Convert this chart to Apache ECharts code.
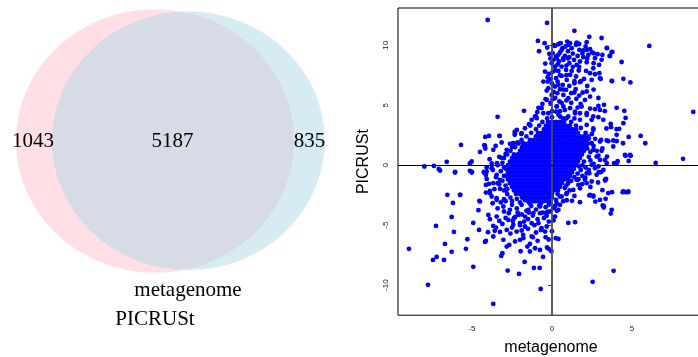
<!DOCTYPE html>
<html>
<head>
<meta charset="utf-8">
<script src="https://cdn.jsdelivr.net/npm/echarts@6/dist/echarts.min.js"></script>
<style>
  html, body { margin: 0; padding: 0; background: #fff; }
  #chart { width: 698px; height: 357px; }
</style>
</head>
<body>
<div id="chart"></div>
<script>
// venn: PICRUSt only, shared, metagenome only
var vennNames = ['PICRUSt', 'metagenome'];
var vennCounts = [1043, 5187, 835];

// scatter axis ticks
var xTicks = [-5, 0, 5];
var yTicks = [-10, -5, 0, 5, 10];

// dense core of the scatter, read row by row: [y, [x...]]
var coreRows = [
  [3.6, [-0.25, 0, 0.25, 0.5, 0.75]],
  [3.3, [-0.38, -0.13, 0.12, 0.37, 0.62, 0.87, 1.12]],
  [3.0, [-0.5, -0.25, 0, 0.25, 0.5, 0.75, 1, 1.25, 1.5]],
  [2.7, [-0.88, -0.63, -0.38, -0.13, 0.12, 0.37, 0.62, 0.87, 1.12, 1.37, 1.62]],
  [2.4, [-1, -0.75, -0.5, -0.25, 0, 0.25, 0.5, 0.75, 1, 1.25, 1.5, 1.75, 2]],
  [2.1, [-1.38, -1.13, -0.88, -0.63, -0.38, -0.13, 0.12, 0.37, 0.62, 0.87, 1.12, 1.37, 1.62, 1.87, 2.12]],
  [1.8, [-1.75, -1.5, -1.25, -1, -0.75, -0.5, -0.25, 0, 0.25, 0.5, 0.75, 1, 1.25, 1.5, 1.75, 2, 2.25]],
  [1.5, [-1.88, -1.63, -1.38, -1.13, -0.88, -0.63, -0.38, -0.13, 0.12, 0.37, 0.62, 0.87, 1.12, 1.37, 1.62, 1.87, 2.12]],
  [1.2, [-2, -1.75, -1.5, -1.25, -1, -0.75, -0.5, -0.25, 0, 0.25, 0.5, 0.75, 1, 1.25, 1.5, 1.75, 2]],
  [0.9, [-2.38, -2.13, -1.88, -1.63, -1.38, -1.13, -0.88, -0.63, -0.38, -0.13, 0.12, 0.37, 0.62, 0.87, 1.12, 1.37, 1.62, 1.87]],
  [0.6, [-2.5, -2.25, -2, -1.75, -1.5, -1.25, -1, -0.75, -0.5, -0.25, 0, 0.25, 0.5, 0.75, 1, 1.25, 1.5, 1.75]],
  [0.3, [-2.63, -2.38, -2.13, -1.88, -1.63, -1.38, -1.13, -0.88, -0.63, -0.38, -0.13, 0.12, 0.37, 0.62, 0.87, 1.12, 1.37, 1.62]],
  [0, [-2.75, -2.5, -2.25, -2, -1.75, -1.5, -1.25, -1, -0.75, -0.5, -0.25, 0, 0.25, 0.5, 0.75, 1, 1.25, 1.5]],
  [-0.3, [-2.88, -2.63, -2.38, -2.13, -1.88, -1.63, -1.38, -1.13, -0.88, -0.63, -0.38, -0.13, 0.12, 0.37, 0.62, 0.87, 1.12, 1.37]],
  [-0.6, [-2.75, -2.5, -2.25, -2, -1.75, -1.5, -1.25, -1, -0.75, -0.5, -0.25, 0, 0.25, 0.5, 0.75, 1, 1.25]],
  [-0.9, [-2.88, -2.63, -2.38, -2.13, -1.88, -1.63, -1.38, -1.13, -0.88, -0.63, -0.38, -0.13, 0.12, 0.37, 0.62, 0.87, 1.12]],
  [-1.2, [-2.75, -2.5, -2.25, -2, -1.75, -1.5, -1.25, -1, -0.75, -0.5, -0.25, 0, 0.25, 0.5, 0.75, 1]],
  [-1.5, [-2.63, -2.38, -2.13, -1.88, -1.63, -1.38, -1.13, -0.88, -0.63, -0.38, -0.13, 0.12, 0.37, 0.62]],
  [-1.8, [-2.5, -2.25, -2, -1.75, -1.5, -1.25, -1, -0.75, -0.5, -0.25, 0, 0.25, 0.5]],
  [-2.1, [-2.38, -2.13, -1.88, -1.63, -1.38, -1.13, -0.88, -0.63, -0.38, -0.13, 0.12, 0.37]],
  [-2.4, [-2.25, -2, -1.75, -1.5, -1.25, -1, -0.75, -0.5, -0.25, 0]],
  [-2.7, [-1.88, -1.63, -1.38, -1.13, -0.88, -0.63, -0.38, -0.13]],
  [-3.0, [-1.5, -1.25, -1, -0.75, -0.5, -0.25]]
];

// upper arm (y > 4)
var upperPts = [
  [-4.02,12.1],[-0.31,11.86],[1.4,11.2],[2.33,10.7],[3.1,10.6],[6.08,9.94],[-0.88,10.36],[-0.46,10.17],[-0.81,9.5],
  [3.42,9.78],[3.77,9.44],[3.6,9.1],[4.35,8.6],[4.46,7.2],[4.9,6.9],[3.75,7.0],[3.0,7.25],[-0.42,8.47],[-0.44,7.8],
  [-0.54,6.97],[-0.27,7.33],[8.83,4.44],[-1.75,4.53],[-3.4,4.03],[4.04,4.78],[4.52,4.53],[4.6,3.94],
  [0.54,10.17],[1.13,10.17],[1.54,10.22],[1.5,10.03],[1.04,10.03],[2.17,10.25],[0.4,10.08],[0.19,9.94],[0.65,9.75],
  [0.85,9.89],[1.23,9.75],[1.71,9.61],[1.96,9.56],[2.17,9.61],[2.38,9.67],[2.6,9.33],[2.85,9.25],[3.15,9.19],
  [3.44,9.75],[3.73,9.42],[3.63,9.11],[3.1,8.78],[2.69,8.92],[2.27,9.19],[1.96,9.0],[1.75,8.64],[1.38,8.78],
  [1.08,9.0],[0.81,9.11],[0.5,9.39],[0.04,9.33],[-0.17,9.28],[0.25,9.06],[0.08,8.78],[0.44,8.64],[0.71,8.78],
  [1.08,8.5],[-0.02,8.5],[0.19,8.22],[0.6,8.22],[1.54,8.36],[2.17,8.58],[2.94,8.36],[2.58,8.08],[2.13,7.86],
  [1.67,7.89],[1.23,7.86],[0.88,7.94],[0.4,7.86],[0.04,7.78],[2.38,7.67],[2.69,7.58],[2.96,7.67],[3.04,7.19],
  [2.48,7.11],[2.0,7.19],[1.5,7.39],[1.13,7.53],[0.6,7.44],[0.25,7.25],[-0.13,7.17],[-0.27,6.97],[0.35,6.97],
  [0.92,7.11],[0.67,6.69],[1.08,6.61],[1.4,6.83],[1.75,6.92],[0.19,6.56],[-0.23,6.42],[0.5,6.33],[0.88,6.28],
  [1.48,6.33],[1.92,6.06],[2.17,6.14],[1.4,6.06],[0.33,6.0],[-0.02,5.86],[-0.33,6.22],[2.38,5.72],[0.71,5.86],
  [1.02,5.58],[1.52,5.53],[0.04,5.5],[-0.33,5.44],[0.46,5.31],[2.06,5.44],[1.79,5.11],[2.9,4.94],[2.69,4.67],
  [2.38,4.72],[3.0,4.61],[3.25,5.03],[3.73,7.03],[-0.65,4.75],[-0.92,4.42],[-0.23,4.33],[0.25,4.47],[0.71,4.89],
  [1.13,4.75],[1.44,4.33],[1.75,4.33],[2.17,4.19],[-1.06,4.06],[0.5,4.06],[1.02,4.06],[2.9,4.0],[2.58,4.06],
  [0.0,4.5],[0.3,4.9],[0.6,5.2],[-0.1,5.2],[0.2,5.6],[0.9,5.4],[0.5,4.5],[1.2,5.2],[1.6,4.8],[0.8,4.6],
  [-0.4,5.5],[0.4,6.7],[0.1,6.1],[0.7,6.3],[1.2,6.0],[1.7,5.8],[0.5,7.5],[1.8,7.0],[0.9,8.3],[1.3,8.2],
  [0.3,8.9],[0.6,9.6],[1.0,9.5],[1.3,9.3],[1.6,9.1],[1.9,9.3],[2.2,8.9],[2.6,8.5],[0.1,10.0],[0.95,10.3],
  [1.7,10.1],[2.1,9.9],[2.5,9.4],[0.4,9.2],[0.7,8.9],[1.0,8.9],[1.7,8.2],[0.35,8.4],[-0.1,8.9],[-0.3,9.8],
  [-0.2,7.6],[0.0,6.8],[0.2,7.9],[0.9,7.5],[1.4,7.0],[2.2,6.6],[2.6,6.3],[2.9,5.6],[3.3,4.5]
];

// right side of the cloud
var rightPts = [
  [3.67,3.44],[3.69,3.17],[4.2,3.03],[3.4,3.06],[2.58,3.06],[5.54,2.44],[5.83,1.83],[4.79,2.36],[4.44,1.83],
  [4.04,2.0],[3.06,2.11],[3.52,2.0],[3.83,1.56],[3.15,1.39],[3.44,0.72],[4.56,0.86],[4.88,0.86],[4.79,0.36],
  [4.1,0.33],[3.88,0.17],[6.48,0.19],[8.19,0.53],[2.58,1.28],[2.79,0.72],[3.0,1.97],[3.42,2.06],[3.83,2.06],
  [4.04,2.53],[4.04,3.0],[4.46,3.5],[4.6,0.78],[4.92,0.78],[3.42,0.17],[4.04,0.17],[3.21,-0.39],[3.31,0.44],
  [2.48,0.03],[2.69,-0.25],[2.79,-0.8],[2.17,-0.67],[2.06,-1.22],[2.48,-1.36],[1.65,-1.64],[1.54,-1.22],
  [3.0,0.44],[2.48,1.83],[2.27,2.39],[2.58,2.94],[2.17,3.36],[1.75,3.78],[2.48,3.78],[3.21,3.78],[1.44,4.47],
  [2.17,4.33],[1.85,4.89],[0.29,4.89],[-0.54,4.33],[-0.96,3.92],[-1.38,3.36],[-1.69,3.08],[-1.27,3.78],
  [2.2,1.4],[2.4,1.1],[2.3,0.7],[2.0,0.3],[1.9,0.0],[2.1,-0.2],[1.8,-0.4],[1.6,-0.7],[1.9,-0.9],[1.4,-1.0],
  [1.2,-1.3],[1.0,-1.5],[0.9,-1.7],[1.6,-1.2],[2.4,0.4],[2.6,1.6],[2.3,2.2],[2.5,2.6],[2.1,2.7],[1.8,3.1],
  [1.5,3.3],[1.2,3.6],[1.4,3.9],[0.9,3.9],[2.7,2.2],[2.8,1.2],[2.6,0.1],[2.3,-0.4],[1.7,0.6],[1.7,-0.1],
  [2.9,0.8],[3.1,1.2],[2.9,-0.1],[2.92,-0.58],[3.06,-0.58],[2.33,-0.67],[2.17,-1.5],[1.88,-1.58],[1.65,-1.17],
  [2.08,-1.03],[2.4,-1.81],[2.88,-1.44],[3.33,-1.28],[3.38,-1.14]
];

// left side of the cloud
var leftPts = [
  [-5.69,1.69],[-4.5,1.11],[-4.23,1.67],[-4.17,1.39],[-4.17,2.36],[-3.94,2.44],[-3.27,2.44],[-3.52,1.61],
  [-2.33,2.78],[-2.33,2.53],[-1.92,2.61],[-1.44,3.42],[-1.35,3.31],[-1.0,4.06],[-0.85,4.78],[-0.6,5.11],
  [-6.58,0.28],[-7.98,-0.11],[-7.38,-0.06],[-7.08,-0.31],[-6.06,-0.56],[-5.13,0.17],[-5.0,-0.56],[-4.25,-0.56],
  [-4.08,-0.19],[-3.77,0.14],[-3.44,0.17],[-3.15,0.61],[-2.9,0.94],[-2.63,1.78],[-2.4,1.83],[-2.15,1.89],
  [-1.83,1.83],[-4.19,1.61],[-3.67,1.28],[-3.29,2.44],[-3.15,1.89],[-2.83,1.28],[-2.42,1.83],[-2.31,2.67],
  [-1.9,2.67],[-2.2,2.94],[-5.02,0.31],[-5.13,-0.47],[-4.08,-0.53],[-3.77,-0.25],[-3.46,-0.8],[-3.25,-1.22],
  [-3.67,-1.5],[-4.13,-1.64],[-3.88,-2.33],[-5.75,-2.47],
  [-3.0,0.6],[-3.1,0.2],[-3.0,-0.2],[-3.2,-0.5],[-3.0,-0.9],[-3.1,-1.3],[-2.9,-1.7],[-3.0,-2.1],[-2.8,-2.4],
  [-2.6,-2.7],[-3.4,0.0],[-3.5,-1.0],[-3.3,-1.6],[-3.6,-2.0],[-3.3,0.7],[-2.8,0.9],[-2.6,1.2],[-2.3,1.5],
  [-2.1,1.8],[-1.9,2.1],[-1.6,2.4],[-1.3,2.7],[-1.0,3.0],[-0.8,3.3],[-0.6,3.6],[-0.3,3.9],[0.0,4.0],[0.4,4.2],
  [0.7,3.9],[-2.8,-2.0],[-2.5,1.5],[-3.7,-0.4],[-3.9,0.5],[-7.0,-0.44],[-6.06,-0.61],[-5.02,-0.61],[-4.25,-0.61],
  [-4.13,-0.81],[-4.08,-1.14],[-3.94,-1.56],[-3.88,-2.14],[-4.13,-2.28],[-3.77,-2.61],[-3.71,-3.17],[-3.4,-1.5],
  [-3.25,-1.97],[-3.46,-2.75],[-3.0,-2.83],[-2.88,-2.06]
];

// lower part of the cloud
var lowerPts = [
  [-8.94,-6.97],[-7.75,-9.97],[-3.67,-11.56],[-0.71,-10.31],[2.54,-9.72],[3.85,-8.8],[-7.25,-5.06],[-7.44,-7.89],
  [-7.21,-7.64],[-6.75,-7.89],[-6.69,-6.56],[-6.27,-7.22],[-6.13,-5.56],[-6.27,-4.31],[-6.19,-3.14],[-6.54,-2.47],
  [-5.73,-2.47],[-5.29,-6.17],[-5.38,-6.97],[-4.92,-8.47],[-4.92,-4.81],[-4.54,-2.97],[-4.6,-3.75],[-4.56,-5.39],
  [-4.19,-6.39],[-4.13,-6.31],[-4.0,-5.58],[-3.67,-5.94],[-3.58,-5.47],[-3.17,-7.56],[-3.1,-7.33],[-2.77,-8.78],
  [-2.06,-9.06],[-1.71,-8.06],[-1.96,-7.17],[-1.13,-8.56],[-0.77,-8.56],[-0.56,-7.64],[-0.04,-7.17],[-0.21,-6.97],
  [-0.31,-6.86],[0.23,-6.08],[0.4,-6.14],[-0.21,-6.19],[1.02,-4.81],[1.44,-4.75],[1.75,-3.08],[1.25,-2.97],
  [0.92,-2.92],[1.4,-2.56],[2.33,-2.53],[2.58,-2.53],[2.71,-3.03],[3.17,-3.36],[3.23,-3.53],[3.67,-4.03],
  [3.15,-2.08],[3.75,-2.25],[4.42,-2.25],[4.6,-2.25],[4.75,-2.25],[3.35,-2.8],
  [-3.0,-3.86],[-3.46,-4.28],[-3.88,-4.5],[-3.67,-5.06],[-3.29,-4.64],[-3.25,-5.56],[-2.83,-5.39],[-2.42,-4.97],
  [-2.73,-4.56],[-2.38,-4.42],[-2.21,-5.53],[-1.9,-5.44],[-1.69,-5.11],[-2.0,-6.22],[-1.79,-6.08],[-1.27,-5.94],
  [-1.54,-6.78],[-1.38,-7.19],[-1.06,-6.92],[-0.75,-7.06],[-0.44,-5.53],[-0.65,-5.25],[-0.33,-5.11],[-1.0,-5.61],
  [-0.85,-4.83],[-1.27,-4.83],[-2.0,-4.83],[-1.69,-4.28],[-1.17,-4.0],[-0.75,-4.0],[-0.33,-4.22],[-0.13,-3.86],
  [0.19,-4.28],[0.08,-3.58],[0.4,-3.72],[-3.04,-6.22],[-2.67,-6.64],[-2.83,-6.78],[-2.31,-6.36],[-1.38,-6.56],
  [-3.04,-3.44],[-2.63,-3.72],[-2.1,-4.14],[-1.48,-3.72],[-0.75,-3.44],[-0.38,-4.0],[0.29,-3.17],[0.5,-2.61],
  [0.92,-2.33],[1.33,-2.06],[1.75,-1.92],[2.38,-2.47],[2.58,-2.61],[3.0,-2.89],[3.25,-3.44],[3.73,-3.72],
  [3.31,-1.22],[3.52,-2.33],[4.46,-2.19],[4.77,-2.19],[-4.5,-3.03],[-3.46,-2.89],[-3.98,-4.14],
  [-2.5,-3.3],[-2.2,-3.6],[-1.9,-3.3],[-1.6,-3.8],[-1.3,-3.4],[-1.0,-3.7],[-0.7,-3.2],[-0.4,-3.5],[-0.1,-3.1],
  [0.2,-3.4],[-2.7,-4.0],[-2.3,-4.3],[-1.9,-4.1],[-1.5,-4.5],[-1.2,-4.2],[-0.9,-4.5],[-0.5,-4.4],[-0.2,-4.7],
  [0.1,-4.6],[-2.5,-5.2],[-2.0,-5.0],[-1.5,-5.3],[-1.1,-5.0],[-0.7,-5.4],[-0.4,-6.0],[-1.8,-5.8],[-2.9,-4.4],
  [-3.1,-4.9],[-3.4,-3.6],[-3.2,-3.1],[-2.9,-3.0],[-0.9,-6.3],[-1.2,-6.0],[-2.6,-5.7],[-3.5,-5.2],[0.0,-5.5],
  [0.3,-3.8],[0.5,-3.3],[0.7,-3.0],[0.6,-2.6],[0.9,-2.4],[1.1,-2.1],[0.8,-1.9],[-0.3,-3.9],[-0.6,-3.95],
  [-1.45,-3.95],[-2.15,-3.95],[-1.75,-4.7],[-2.45,-4.65],[-2.5,-3.0],[-2.2,-2.8],[-2.0,-3.1],[-1.7,-2.9],
  [-1.4,-3.2],[-1.1,-3.0],[-0.8,-3.35],[-0.5,-2.9],[-0.2,-3.3],[0.0,-2.7],[0.25,-2.9],[0.35,-2.4]
];

var scatterData = [];
coreRows.forEach(function(row) {
  row[1].forEach(function(x) { scatterData.push([x, row[0]]); });
});
scatterData = scatterData.concat(upperPts, rightPts, leftPts, lowerPts);

// venn layout (pixel units of the left panel)
var vennLayout = {
  circles: [[155, 141, 131.7], [188.3, 140.8, 129.2]],
  stretch: 1.056,
  fills: ['rgba(255,192,203,0.5)', 'rgba(173,216,230,0.5)'],
  countPos: [[33, 141.7], [172.5, 141.7], [309.5, 141.7]],
  namePos: [[155, 319], [188, 290]]
};
var serif = '"Liberation Serif", "DejaVu Serif", serif';
var sans = '"Liberation Sans", Arial, sans-serif';

var chart = echarts.init(document.getElementById('chart'), null, { renderer: 'canvas' });

var option = {
  animation: false,
  backgroundColor: '#fff',
  grid: [
    { left: 0, top: 0, width: 350, height: 357, show: false, outerBoundsMode: 'none', containLabel: false },
    { left: 398, top: 8, width: 306, height: 307.2, show: true, borderColor: '#000', borderWidth: 1,
      outerBoundsMode: 'none', containLabel: false }
  ],
  xAxis: [
    { gridIndex: 0, type: 'value', min: 0, max: 350, show: false },
    {
      gridIndex: 1, type: 'value', min: -9.625, max: 9.5,
      name: 'metagenome', nameLocation: 'middle', nameGap: 24,
      nameTextStyle: { fontFamily: sans, fontSize: 16, color: '#000' },
      axisLine: { show: false },
      axisTick: { show: false },
      splitLine: { show: false },
      axisLabel: {
        customValues: xTicks, margin: 10, fontSize: 8, fontFamily: sans, color: '#222',
        formatter: function(v) { return xTicks.indexOf(v) >= 0 ? String(v) : ''; }
      }
    }
  ],
  yAxis: [
    { gridIndex: 0, type: 'value', min: 0, max: 357, inverse: true, show: false },
    {
      gridIndex: 1, type: 'value', min: -12.5, max: 13.1,
      name: 'PICRUSt', nameLocation: 'middle', nameGap: 26,
      nameTextStyle: { fontFamily: sans, fontSize: 16, color: '#000' },
      axisLine: { show: true, lineStyle: { color: '#444', width: 1.5 } },
      axisTick: { show: true, customValues: yTicks, length: 4, lineStyle: { color: '#444' } },
      splitLine: { show: false },
      axisLabel: {
        customValues: yTicks, rotate: 90, margin: 8, fontSize: 8, fontFamily: sans, color: '#222',
        formatter: function(v) { return yTicks.indexOf(v) >= 0 ? String(v) : ''; }
      }
    }
  ],
  series: [
    {
      type: 'custom', xAxisIndex: 0, yAxisIndex: 0, silent: true,
      data: vennNames.map(function(n, i) { return [i]; }),
      renderItem: function(params, api) {
        var c = vennLayout.circles[params.dataIndex];
        var p = api.coord([c[0], c[1]]);
        var r = api.size([0, c[2]])[1];
        return {
          type: 'circle', x: p[0], y: p[1], scaleX: vennLayout.stretch,
          shape: { cx: 0, cy: 0, r: r },
          style: { fill: vennLayout.fills[params.dataIndex], stroke: null }
        };
      }
    },
    {
      type: 'custom', xAxisIndex: 0, yAxisIndex: 0, silent: true, z: 3,
      data: vennCounts.map(function(c, i) { return [i, c]; }),
      renderItem: function(params, api) {
        var pos = vennLayout.countPos[params.dataIndex];
        var p = api.coord(pos);
        return {
          type: 'text', x: p[0], y: p[1],
          style: { text: String(vennCounts[params.dataIndex]), fill: '#000',
            font: '21px ' + serif, align: 'center', verticalAlign: 'middle' }
        };
      }
    },
    {
      type: 'custom', xAxisIndex: 0, yAxisIndex: 0, silent: true, z: 3,
      data: vennNames.map(function(n, i) { return [i]; }),
      renderItem: function(params, api) {
        var p = api.coord(vennLayout.namePos[params.dataIndex]);
        return {
          type: 'text', x: p[0], y: p[1],
          style: { text: vennNames[params.dataIndex], fill: '#000',
            font: '21px ' + serif, align: 'center', verticalAlign: 'middle' }
        };
      }
    },
    {
      type: 'scatter', xAxisIndex: 1, yAxisIndex: 1, silent: true,
      symbol: 'circle', symbolSize: 4.8,
      itemStyle: { color: '#0000FF', opacity: 1 },
      data: scatterData,
      markLine: {
        silent: true, symbol: 'none', animation: false,
        label: { show: false },
        data: [
          { xAxis: 0, lineStyle: { color: '#555', width: 1.5, type: 'solid' } },
          { yAxis: 0, lineStyle: { color: '#000', width: 1, type: 'solid' } }
        ]
      }
    }
  ]
};

chart.setOption(option);
</script>
</body>
</html>
